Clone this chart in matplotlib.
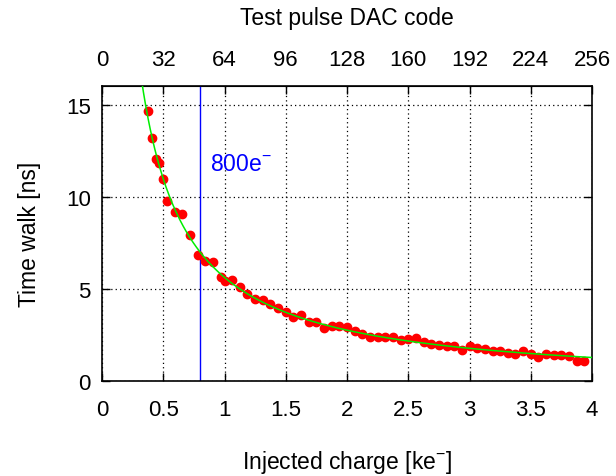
import matplotlib
matplotlib.use("Agg")
import matplotlib.pyplot as plt
import numpy as np

plt.rcParams["font.family"] = ["Liberation Sans", "DejaVu Sans"]
plt.rcParams["mathtext.fontset"] = "custom"
plt.rcParams["mathtext.rm"] = "Liberation Sans"
plt.rcParams["mathtext.it"] = "Liberation Sans"

# Test pulse DAC code of each measurement (64 codes = 1 ke-)
dac_code = [24, 26, 28, 30, 32, 34, 38, 42, 46, 50, 54, 58, 62, 64, 68, 72,
            76, 80, 84, 88, 92, 96, 100, 104, 108, 112, 116, 120, 124, 128,
            132, 136, 140, 144, 148, 152, 156, 160, 164, 168, 172, 176, 180,
            184, 188, 192, 196, 200, 204, 208, 212, 216, 220, 224, 228, 232,
            236, 240, 244, 248, 252]
# Measured time walk [ns]
time_walk = [14.66, 13.2, 12.06, 11.84, 10.98, 9.76, 9.19, 9.07, 7.93, 6.85,
             6.53, 6.46, 5.62, 5.41, 5.46, 5.07, 4.69, 4.46, 4.36, 4.15, 3.93,
             3.75, 3.48, 3.55, 3.19, 3.19, 2.89, 2.97, 2.97, 2.92, 2.70, 2.56,
             2.38, 2.35, 2.35, 2.35, 2.19, 2.25, 2.31, 2.13, 1.98, 1.93, 1.89,
             1.88, 1.66, 1.88, 1.75, 1.71, 1.64, 1.64, 1.48, 1.44, 1.59, 1.44,
             1.30, 1.44, 1.41, 1.39, 1.34, 1.08, 1.08]

threshold_charge = 0.8  # ke-
dac_ticks = [0, 32, 64, 96, 128, 160, 192, 224, 256]

charge = np.array(dac_code) / 64.0
tw = np.array(time_walk)

# fit  t = a / (q - q0) + b  (scan q0, linear least squares for a, b)
best = None
for q0 in np.linspace(-0.3, 0.3, 601):
    A = np.column_stack([1.0 / (charge - q0), np.ones_like(charge)])
    coef, res, _, _ = np.linalg.lstsq(A, tw, rcond=None)
    err = np.sum((A @ coef - tw) ** 2)
    if best is None or err < best[0]:
        best = (err, q0, coef)
_, q0, (a, b) = best
qfit = np.linspace(0.32, 4.0, 400)
tfit = a / (qfit - q0) + b

fig = plt.figure(figsize=(6.16, 4.77), dpi=100)
ax = fig.add_axes([0.1656, 0.1998, 0.7955, 0.6172])

ax.plot(charge, tw, "o", color="#ff0000", markersize=6, zorder=3)
ax.plot(qfit, tfit, color="#00ee00", linewidth=1.1, zorder=4)
ax.axvline(threshold_charge, color="#0000ff", linewidth=1.0, zorder=2)
ax.text(0.88, 11.8, "800e$^{-}$", color="#0000ff", fontsize=16.5, va="center")

ax.set_xlim(0, 4)
ax.set_ylim(0, 16)
ax.set_xticks(np.arange(0, 4.01, 0.5))
ax.set_xticklabels(["0", "0.5", "1", "1.5", "2", "2.5", "3", "3.5", "4"])
ax.set_yticks([0, 5, 10, 15])
ax.tick_params(direction="in", length=6, width=1, labelsize=16,
               right=True, top=False)
ax.tick_params(axis="x", pad=13)
ax.tick_params(axis="y", pad=8)
ax.grid(True, color="black", linestyle=(0, (1, 2.5)), linewidth=0.9)

ax.set_xlabel("Injected charge [ke$^{-}$]", fontsize=16.5, labelpad=20)
ax.set_ylabel("Time walk [ns]", fontsize=16.5, labelpad=18)

top = ax.secondary_xaxis("top", functions=(lambda q: q * 64, lambda d: d / 64))
top.set_xticks(dac_ticks)
top.tick_params(direction="in", length=6, width=1, labelsize=16, pad=12)
top.set_xlabel("Test pulse DAC code", fontsize=16.5, labelpad=18)

for s in ax.spines.values():
    s.set_linewidth(1.2)

fig.savefig("out.png", dpi=100)
